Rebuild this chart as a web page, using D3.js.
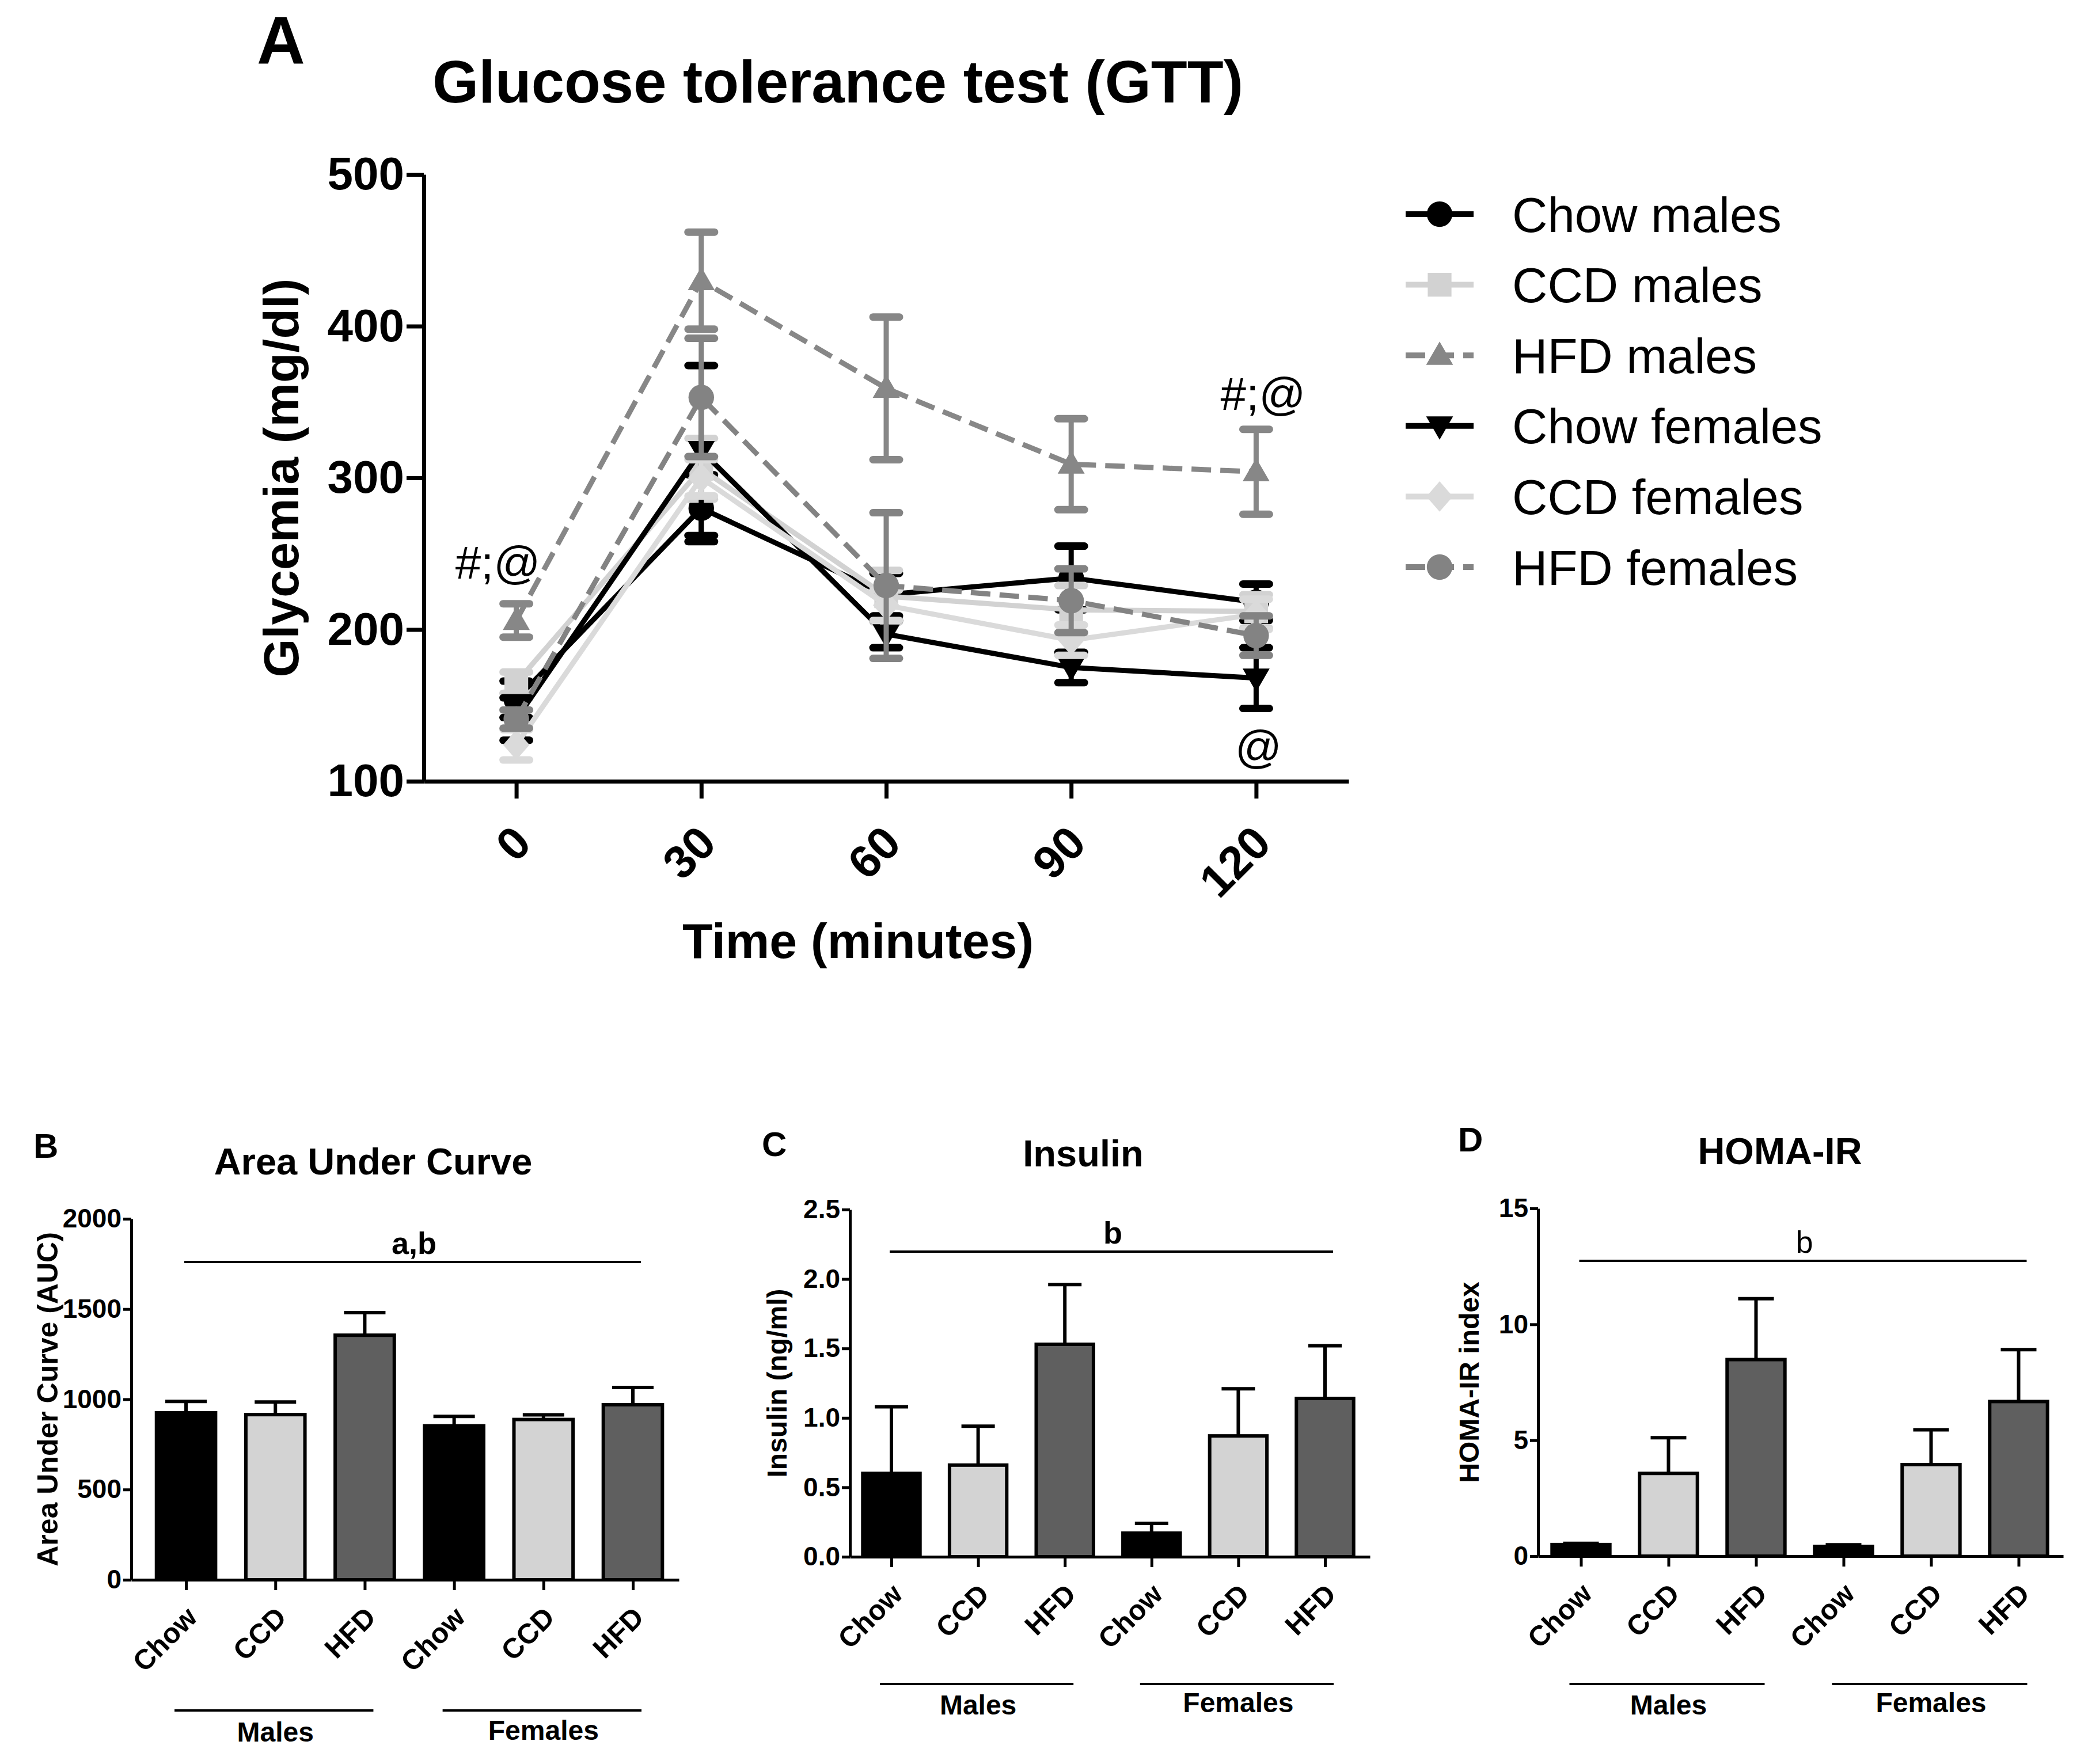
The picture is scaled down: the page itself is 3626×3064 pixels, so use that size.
<!DOCTYPE html>
<html>
<head>
<meta charset="utf-8">
<script src="https://cdn.jsdelivr.net/npm/d3@7"></script>
<style>
  body { margin: 0; background: #fff; }
  svg text { font-family: 'Liberation Sans', Arial, Helvetica, sans-serif; fill: #000; }
</style>
</head>
<body>
<div id="chart"></div>
<script>
// --- data: GTT time course (mean and SEM, mg/dl) ---
const times = [0, 30, 60, 90, 120];
const seriesNames = ["Chow males", "CCD males", "HFD males", "Chow females", "CCD females", "HFD females"];
const chowMalesMean   = [154, 280, 223, 234, 218];
const chowMalesSem    = [12, 22, 14, 21, 12];
const ccdMalesMean    = [165, 306, 222, 213, 212];
const ccdMalesSem     = [7, 20, 17, 16, 11];
const hfdMalesMean    = [206, 430, 359, 309, 304];
const hfdMalesSem     = [11, 32, 47, 30, 28];
const chowFemalesMean = [141, 318, 197, 175, 168];
const chowFemalesSem  = [14, 56, 9, 10, 20];
const ccdFemalesMean  = [124, 300, 216, 193, 210];
const ccdFemalesSem   = [10, 12, 10, 10, 10];
const hfdFemalesMean  = [141, 353, 229, 219, 196];
const hfdFemalesSem   = [6, 39, 48, 21, 13];
const gttTicks = [100, 200, 300, 400, 500];

// --- data: bar panels ---
const barCats = ["Chow", "CCD", "HFD", "Chow", "CCD", "HFD"];
const aucMean  = [925, 915, 1355, 853, 888, 970];
const aucSem   = [63, 70, 125, 52, 26, 95];
const aucTicks = [0, 500, 1000, 1500, 2000];
const insMean  = [0.60, 0.66, 1.53, 0.17, 0.87, 1.14];
const insSem   = [0.48, 0.28, 0.43, 0.07, 0.34, 0.38];
const insTicks = [0, 0.5, 1.0, 1.5, 2.0, 2.5];
const homaMean = [0.50, 3.57, 8.48, 0.42, 3.95, 6.67];
const homaSem  = [0.05, 1.54, 2.63, 0.07, 1.50, 2.24];
const homaTicks = [0, 5, 10, 15];

const W = 3626, H = 3064;
const svg = d3.select("#chart").append("svg")
    .attr("width", W).attr("height", H)
    .attr("viewBox", `0 0 ${W} ${H}`)
    .style("background", "#fff");

// ================= Panel A =================
const xA = d3.scaleLinear().domain([-15, 135]).range([736, 2342]);
const yA = d3.scaleLinear().domain([100, 500]).range([1357, 303]);

svg.append("text").attr("x", 446).attr("y", 111)
    .attr("font-size", 116).attr("font-weight", "bold").text("A");
svg.append("text").attr("x", 1455).attr("y", 178).attr("text-anchor", "middle")
    .attr("font-size", 103).attr("font-weight", "bold").text("Glucose tolerance test (GTT)");

const gyA = svg.append("g").attr("transform", `translate(${xA.range()[0]},0)`)
    .call(d3.axisLeft(yA).tickValues(gttTicks).tickSize(30).tickSizeOuter(0).tickPadding(4));
const gxA = svg.append("g").attr("transform", `translate(0,${yA.range()[0]})`)
    .call(d3.axisBottom(xA).tickValues(times).tickSize(30).tickSizeOuter(0).tickFormat(""));
[gyA, gxA].forEach(g => {
    g.select(".domain").attr("stroke", "#000").attr("stroke-width", 7);
    g.selectAll(".tick line").attr("stroke", "#000").attr("stroke-width", 7);
});
gyA.selectAll(".tick text").attr("font-size", 80).attr("font-weight", "bold")
    .attr("font-family", "'Liberation Sans', Arial, sans-serif").attr("fill", "#000");

svg.append("g").selectAll("text").data(times).enter().append("text")
    .attr("transform", d => `translate(${xA(d) + 10},${yA.range()[0] + 92}) rotate(-45)`)
    .attr("text-anchor", "end").attr("dy", "0.35em")
    .attr("font-size", 80).attr("font-weight", "bold").text(d => d);

svg.append("text").attr("x", 1490).attr("y", 1664).attr("text-anchor", "middle")
    .attr("font-size", 86).attr("font-weight", "bold").text("Time (minutes)");
svg.append("text").attr("transform", "translate(488,830) rotate(-90)")
    .attr("text-anchor", "middle").attr("dy", "0.35em")
    .attr("font-size", 86).attr("font-weight", "bold").text("Glycemia (mg/dl)");

const gttSeries = [
    { name: seriesNames[0], mean: chowMalesMean, sem: chowMalesSem, color: "#000000", dash: null, sym: "circle" },
    { name: seriesNames[1], mean: ccdMalesMean, sem: ccdMalesSem, color: "#d2d2d2", dash: null, sym: "square" },
    { name: seriesNames[2], mean: hfdMalesMean, sem: hfdMalesSem, color: "#878787", dash: "34,16", sym: "triangle" },
    { name: seriesNames[3], mean: chowFemalesMean, sem: chowFemalesSem, color: "#000000", dash: null, sym: "triangleDown" },
    { name: seriesNames[4], mean: ccdFemalesMean, sem: ccdFemalesSem, color: "#dadada", dash: null, sym: "diamond" },
    { name: seriesNames[5], mean: hfdFemalesMean, sem: hfdFemalesSem, color: "#838383", dash: "34,16", sym: "circle" }
];

function drawMarker(g, type, x, y, color) {
    let p;
    if (type === "circle") {
        p = g.append("path").attr("d", d3.symbol(d3.symbolCircle, 1550)())
            .attr("transform", `translate(${x},${y})`);
    } else if (type === "square") {
        p = g.append("path").attr("d", d3.symbol(d3.symbolSquare, 1700)())
            .attr("transform", `translate(${x},${y})`);
    } else if (type === "triangle") {
        p = g.append("path").attr("d", d3.symbol(d3.symbolTriangle, 950)())
            .attr("transform", `translate(${x},${y + 3})`);
    } else if (type === "triangleDown") {
        p = g.append("path").attr("d", d3.symbol(d3.symbolTriangle, 950)())
            .attr("transform", `translate(${x},${y - 3}) rotate(180)`);
    } else {
        p = g.append("path").attr("d", d3.symbol(d3.symbolSquare, 1050)())
            .attr("transform", `translate(${x},${y}) scale(1,1.15) rotate(45)`);
    }
    p.attr("fill", color);
}

const line = d3.line().x((d, i) => xA(times[i])).y(d => yA(d));
gttSeries.forEach(s => {
    const g = svg.append("g").attr("class", "series");
    // error bars
    s.mean.forEach((m, i) => {
        const x = xA(times[i]);
        g.append("line").attr("x1", x).attr("x2", x)
            .attr("y1", yA(m - s.sem[i])).attr("y2", yA(m + s.sem[i]))
            .attr("stroke", s.color).attr("stroke-width", 9);
        [m - s.sem[i], m + s.sem[i]].forEach(v => {
            g.append("line").attr("x1", x - 23).attr("x2", x + 23)
                .attr("y1", yA(v)).attr("y2", yA(v))
                .attr("stroke", s.color).attr("stroke-width", 13).attr("stroke-linecap", "round");
        });
    });
    g.append("path").datum(s.mean).attr("d", line)
        .attr("fill", "none").attr("stroke", s.color).attr("stroke-width", 9)
        .attr("stroke-dasharray", s.dash);
    s.mean.forEach((m, i) => drawMarker(g, s.sym, xA(times[i]), yA(m), s.color));
});

// significance annotations
svg.append("text").attr("x", xA(0) - 32).attr("y", 1005).attr("text-anchor", "middle")
    .attr("font-size", 80).text("#;@");
svg.append("text").attr("x", xA(120) + 12).attr("y", 712).attr("text-anchor", "middle")
    .attr("font-size", 80).text("#;@");
svg.append("text").attr("x", xA(120) + 4).attr("y", 1325).attr("text-anchor", "middle")
    .attr("font-size", 80).text("@");

// legend
const legend = svg.append("g").attr("transform", "translate(2441,372)");
gttSeries.forEach((s, i) => {
    const row = legend.append("g").attr("transform", `translate(0,${i * 122.6})`);
    row.append("line").attr("x1", 0).attr("x2", 118).attr("y1", 0).attr("y2", 0)
        .attr("stroke", s.color).attr("stroke-width", 10).attr("stroke-dasharray", s.dash);
    drawMarker(row, s.sym, 59, 0, s.color);
    row.append("text").attr("x", 185).attr("dy", "0.36em")
        .attr("font-size", 85).text(s.name);
});

// ================= Bar panels =================
const barColors = ["#000000", "#d3d3d3", "#5f5f5f", "#000000", "#d3d3d3", "#5f5f5f"];

function barPanel(c) {
    const idx = d3.range(c.means.length);
    const x = d3.scalePoint().domain(idx).range([c.x0, c.x1]).padding(c.pad).align(c.align);
    const y = d3.scaleLinear().domain([0, c.max]).range([c.y0, c.y1]);
    const step = x.step();
    const bw = step * 0.7;
    const g = svg.append("g");

    g.append("text").attr("x", c.letterX).attr("y", c.letterY)
        .attr("font-size", 60).attr("font-weight", "bold").text(c.letter);
    g.append("text").attr("x", c.titleX).attr("y", c.titleY).attr("text-anchor", "middle")
        .attr("font-size", 65).attr("font-weight", "bold").text(c.title);

    // error bars (upper only)
    idx.forEach(i => {
        const cx = x(i);
        const top = y(c.means[i] + c.sems[i]);
        g.append("line").attr("x1", cx).attr("x2", cx).attr("y1", y(c.means[i])).attr("y2", top)
            .attr("stroke", "#000").attr("stroke-width", 6);
        g.append("line").attr("x1", cx - c.capW / 2).attr("x2", cx + c.capW / 2)
            .attr("y1", top).attr("y2", top).attr("stroke", "#000").attr("stroke-width", 6);
    });
    g.selectAll("rect").data(idx).enter().append("rect")
        .attr("x", i => x(i) - bw / 2 + 3).attr("width", bw - 6)
        .attr("y", i => y(c.means[i])).attr("height", i => y(0) - y(c.means[i]))
        .attr("fill", i => barColors[i]).attr("stroke", "#000").attr("stroke-width", 6);

    const gy = g.append("g").attr("transform", `translate(${c.x0},0)`)
        .call(d3.axisLeft(y).tickValues(c.ticks).tickFormat(c.fmt).tickSize(14).tickSizeOuter(0).tickPadding(3));
    const gx = g.append("g").attr("transform", `translate(0,${c.y0})`)
        .call(d3.axisBottom(x).tickSize(18).tickSizeOuter(0).tickFormat(""));
    [gy, gx].forEach(a => {
        a.select(".domain").attr("stroke", "#000").attr("stroke-width", 5);
        a.selectAll(".tick line").attr("stroke", "#000").attr("stroke-width", 5);
    });
    gy.selectAll(".tick text").attr("font-size", 46).attr("font-weight", "bold")
        .attr("font-family", "'Liberation Sans', Arial, sans-serif").attr("fill", "#000");

    g.selectAll(".xlab").data(idx).enter().append("text")
        .attr("transform", i => `translate(${x(i) + 10},${c.y0 + 56}) rotate(-45)`)
        .attr("text-anchor", "end").attr("dy", "0.35em")
        .attr("font-size", 49).attr("font-weight", "bold").text(i => barCats[i]);

    g.append("text").attr("transform", `translate(${c.ylabX},${(c.y0 + c.y1) / 2}) rotate(-90)`)
        .attr("text-anchor", "middle").attr("dy", "0.35em")
        .attr("font-size", c.ylabSize).attr("font-weight", "bold").text(c.ylabel);

    // significance bar
    g.append("line").attr("x1", x(0) - 3).attr("x2", x(5) + 14)
        .attr("y1", c.sigY).attr("y2", c.sigY).attr("stroke", "#000").attr("stroke-width", 4);
    g.append("text").attr("x", (x(0) + x(5)) / 2 + 8).attr("y", c.sigY - 14)
        .attr("text-anchor", "middle").attr("font-size", 54)
        .attr("font-weight", c.sigBold ? "bold" : "normal").text(c.sig);

    // group lines
    [[0, 2, "Males", c.malesY], [3, 5, "Females", c.femalesY]].forEach(([a, b, lab, ty]) => {
        g.append("line").attr("x1", x(a) - 20).attr("x2", x(b) + 15)
            .attr("y1", c.groupY).attr("y2", c.groupY).attr("stroke", "#000").attr("stroke-width", 4);
        g.append("text").attr("x", (x(a) + x(b)) / 2).attr("y", ty).attr("text-anchor", "middle")
            .attr("font-size", 48).attr("font-weight", "bold").text(lab);
    });
}

barPanel({
    letter: "B", letterX: 58, letterY: 2011, title: "Area Under Curve", titleX: 648, titleY: 2040,
    x0: 228, x1: 1179, pad: 0.564, align: 0.543, y0: 2744, y1: 2117, max: 2000,
    ticks: aucTicks, fmt: d3.format("d"), means: aucMean, sems: aucSem, capW: 72,
    ylabel: "Area Under Curve (AUC)", ylabX: 82, ylabSize: 50,
    sig: "a,b", sigBold: true, sigY: 2192, groupY: 2971, malesY: 3025, femalesY: 3022
});
barPanel({
    letter: "C", letterX: 1323, letterY: 2008, title: "Insulin", titleX: 1881, titleY: 2026,
    x0: 1476, x1: 2379, pad: 0.498, align: 0.48, y0: 2704, y1: 2101, max: 2.5,
    ticks: insTicks, fmt: d3.format(".1f"), means: insMean, sems: insSem, capW: 58,
    ylabel: "Insulin (ng/ml)", ylabX: 1349, ylabSize: 48,
    sig: "b", sigBold: true, sigY: 2174, groupY: 2925, malesY: 2978, femalesY: 2974
});
barPanel({
    letter: "D", letterX: 2532, letterY: 2000, title: "HOMA-IR", titleX: 3091, titleY: 2022,
    x0: 2671, x1: 3583, pad: 0.5, align: 0.49, y0: 2703, y1: 2099, max: 15,
    ticks: homaTicks, fmt: d3.format("d"), means: homaMean, sems: homaSem, capW: 62,
    ylabel: "HOMA-IR index", ylabX: 2551, ylabSize: 48,
    sig: "b", sigBold: false, sigY: 2190, groupY: 2925, malesY: 2978, femalesY: 2974
});
</script>
</body>
</html>
